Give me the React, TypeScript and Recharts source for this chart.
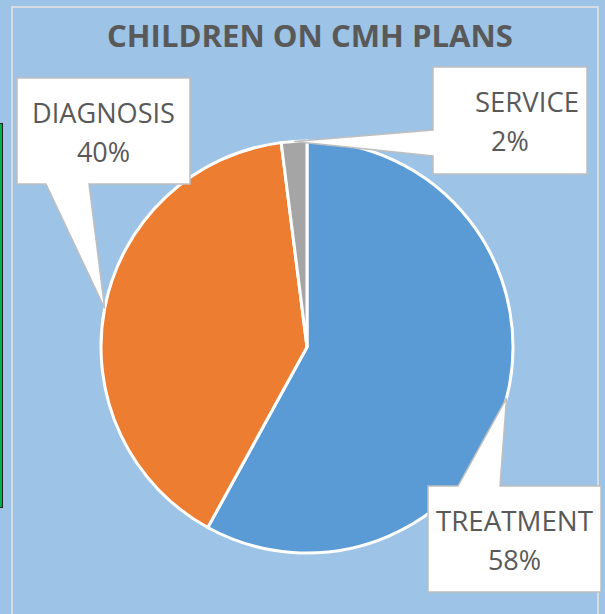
import { PieChart, Pie, Cell } from 'recharts';

const categories = ['TREATMENT', 'DIAGNOSIS', 'SERVICE'];
const shares = [58, 40, 2];
const sliceColors = ['#5B9BD5', '#ED7D31', '#A5A5A5'];

const chartData = categories.map((name, i) => ({ name, value: shares[i] }));

const RADIAN = Math.PI / 180;
const FONT = '"Open Sans", "Noto Sans", sans-serif';

// callout boxes, offsets from the pie centre
type Callout = {
    x: number;
    y: number;
    w: number;
    h: number;
    edge: 'top' | 'bottom' | 'left';
    a: number;
    b: number;
    nameWidth: number;
    nameDx: number;
};

const callouts: Record<string, Callout> = {
    DIAGNOSIS: { x: -290, y: -269, w: 173, h: 106, edge: 'bottom', a: -261, b: -218, nameWidth: 143, nameDx: 0 },
    SERVICE: { x: 126, y: -280, w: 154, h: 107, edge: 'left', a: -217, b: -191, nameWidth: 104, nameDx: 17 },
    TREATMENT: { x: 121, y: 139, w: 173, h: 106, edge: 'top', a: 151, b: 193, nameWidth: 157, nameDx: 0 },
};

function renderCallout(props: any) {
    const { cx, cy, midAngle, outerRadius, percent, name } = props;
    const c = callouts[name];
    if (!c) return null;
    const tx = cx + outerRadius * Math.cos(-midAngle * RADIAN);
    const ty = cy + outerRadius * Math.sin(-midAngle * RADIAN);
    const L = cx + c.x;
    const T = cy + c.y;
    const R = L + c.w;
    const B = T + c.h;
    let d = '';
    if (c.edge === 'top') {
        d = `M${L},${T} H${cx + c.a} L${tx},${ty} L${cx + c.b},${T} H${R} V${B} H${L} Z`;
    } else if (c.edge === 'bottom') {
        d = `M${L},${T} H${R} V${B} H${cx + c.b} L${tx},${ty} L${cx + c.a},${B} H${L} Z`;
    } else {
        d = `M${L},${T} H${R} V${B} H${L} V${cy + c.b} L${tx},${ty} L${L},${cy + c.a} Z`;
    }
    const mid = (L + R) / 2;
    return (
        <g>
            <path d={d} fill="#FFFFFF" stroke="#BFBFBF" strokeWidth={1.5} />
            <text
                x={mid + c.nameDx}
                y={T + 45}
                textAnchor="middle"
                fill="#595959"
                fontFamily={FONT}
                fontSize={27}
                textLength={c.nameWidth}
                lengthAdjust="spacingAndGlyphs"
            >
                {name}
            </text>
            <text x={mid} y={T + 84} textAnchor="middle" fill="#595959" fontFamily={FONT} fontSize={27}>
                {`${Math.round(percent * 100)}%`}
            </text>
        </g>
    );
}

export default function App() {
    return (
        <div style={{ position: 'absolute', left: 0, top: 0, width: 605, height: 614, background: '#9DC3E6', overflow: 'hidden' }}>
            {/* chart area frame */}
            <div
                style={{
                    position: 'absolute',
                    left: 11,
                    top: 6,
                    width: 588,
                    height: 620,
                    border: '2px solid #D6DCE4',
                    boxSizing: 'border-box',
                }}
            />
            {/* sliver of a neighbouring object on the left */}
            <div
                style={{
                    position: 'absolute',
                    left: 0,
                    top: 123,
                    width: 3,
                    height: 385,
                    background: '#00B050',
                    borderRight: '1px solid #222',
                    borderTop: '1px solid #222',
                    borderBottom: '1px solid #222',
                    boxSizing: 'border-box',
                }}
            />
            <div style={{ position: 'absolute', left: 0, top: 0 }}>
                <PieChart width={605} height={614} margin={{ top: 0, right: 0, bottom: 0, left: 0 }}>
                    <Pie
                        data={chartData}
                        dataKey="value"
                        nameKey="name"
                        cx={307}
                        cy={347}
                        outerRadius={206}
                        startAngle={90}
                        endAngle={-270}
                        stroke="#FFFFFF"
                        strokeWidth={3}
                        label={renderCallout}
                        labelLine={false}
                        isAnimationActive={false}
                    >
                        {chartData.map((entry, i) => (
                            <Cell key={entry.name} fill={sliceColors[i]} />
                        ))}
                    </Pie>
                </PieChart>
            </div>
            <svg width={605} height={70} style={{ position: 'absolute', left: 0, top: 0, pointerEvents: 'none' }}>
                <text
                    x={310}
                    y={47}
                    textAnchor="middle"
                    fill="#595959"
                    fontFamily={FONT}
                    fontWeight="bold"
                    fontSize={31}
                    textLength={406}
                    lengthAdjust="spacingAndGlyphs"
                >
                    CHILDREN ON CMH PLANS
                </text>
            </svg>
        </div>
    );
}
